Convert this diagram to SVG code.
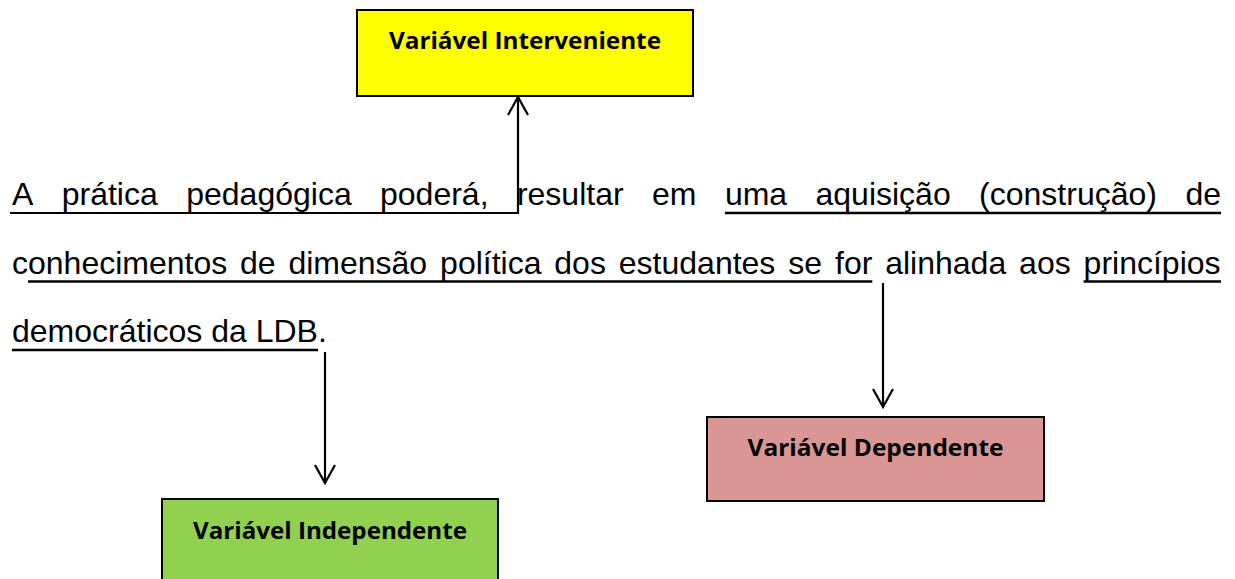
<svg xmlns="http://www.w3.org/2000/svg" width="1235" height="579" viewBox="0 0 1235 579">
<style>
.body{font-family:"Liberation Sans",Arial,sans-serif;font-size:32px;fill:#000}
.lbl{font-family:"Open Sans","Noto Sans",sans-serif;font-size:24px;font-weight:bold;fill:#000;text-anchor:middle}
.box{stroke:#000;stroke-width:2}
.ul{stroke:#000;stroke-width:2.6;fill:none}
.con{stroke:#000;stroke-width:2.2;fill:none;marker-end:url(#arr)}
</style>
<defs>
<marker id="arr" viewBox="0 0 20 20" markerWidth="20" markerHeight="20" refX="18" refY="10" orient="auto" markerUnits="userSpaceOnUse" overflow="visible">
<path d="M0,0 L18,10 L0,20" fill="none" stroke="#000" stroke-width="2.2"/>
</marker>
</defs>
<rect width="1235" height="579" fill="#fff"/>

<g id="text">
<text class="body" y="205">
<tspan x="12">A</tspan><tspan x="61.7">prática</tspan><tspan x="186.2">pedagógica</tspan><tspan x="380">poderá,</tspan><tspan x="516.9">resultar</tspan><tspan x="652">em</tspan><tspan x="724.9">uma</tspan><tspan x="815.5">aquisição</tspan><tspan x="979.1">(construção)</tspan><tspan x="1185.4">de</tspan>
</text>
<text class="body" y="273.5">
<tspan x="12">conhecimentos</tspan><tspan x="239.9">de</tspan><tspan x="288.4">dimensão</tspan><tspan x="440.1">política</tspan><tspan x="554.3">dos</tspan><tspan x="618.8">estudantes</tspan><tspan x="788.3">se</tspan><tspan x="835">for</tspan><tspan x="885.2">alinhada</tspan><tspan x="1019.1">aos</tspan><tspan x="1083.6">princípios</tspan>
</text>
<text class="body" x="12" y="342">democráticos da LDB.</text>
<g id="underlines">
<line class="ul" x1="724.9" y1="213" x2="1221" y2="213"/>
<line class="ul" x1="28" y1="281.5" x2="872.3" y2="281.5"/>
<line class="ul" x1="1083.6" y1="281.5" x2="1221" y2="281.5"/>
<line class="ul" x1="12" y1="350" x2="318" y2="350"/>
</g>
</g>

<g id="node-interveniente">
<rect class="box" x="357" y="10" width="336" height="86" fill="#FFFF00"/>
<text class="lbl" x="525" y="49" textLength="272" lengthAdjust="spacingAndGlyphs">Variável Interveniente</text>
</g>
<g id="node-dependente">
<rect class="box" x="707" y="417" width="337" height="84" fill="#D99694"/>
<text class="lbl" x="875.5" y="456" textLength="256" lengthAdjust="spacingAndGlyphs">Variável Dependente</text>
</g>
<g id="node-independente">
<rect class="box" x="162" y="499" width="336" height="86" fill="#92D050"/>
<text class="lbl" x="330" y="539" textLength="274" lengthAdjust="spacingAndGlyphs">Variável Independente</text>
</g>

<g id="connectors">
<polyline class="con" points="10,213 518,213 518,97"/>
<line class="con" x1="883" y1="283" x2="883" y2="407"/>
<line class="con" x1="325" y1="352" x2="325" y2="483"/>
</g>
</svg>
